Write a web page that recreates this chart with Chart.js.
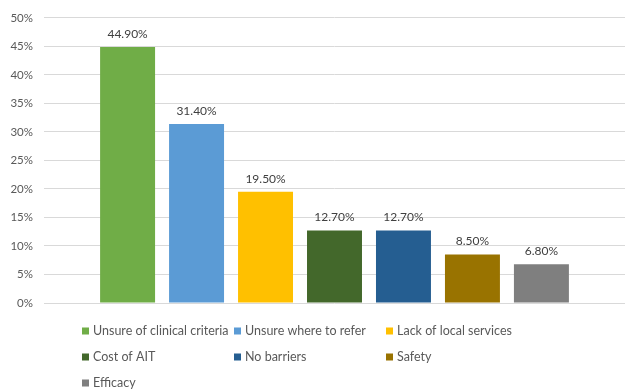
<!DOCTYPE html>
<html>
<head>
<meta charset="utf-8">
<script src="https://cdn.jsdelivr.net/npm/chart.js@4"></script>
<style>
    body { margin: 0; background: #fff; }
    #wrap { width: 625px; height: 389px; position: relative; }
</style>
</head>
<body>
<div id="wrap"><canvas id="barChart"></canvas></div>
<script>
const categories = [
    'Unsure of clinical criteria',
    'Unsure where to refer',
    'Lack of local services',
    'Cost of AIT',
    'No barriers',
    'Safety',
    'Efficacy'
];
const values = [44.9, 31.4, 19.5, 12.7, 12.7, 8.5, 6.8];
const colors = ['#70ad47', '#5b9bd5', '#ffc000', '#43682b', '#255e91', '#997300', '#7f7f7f'];
const yTicks = [0, 5, 10, 15, 20, 25, 30, 35, 40, 45, 50];

const FONT = 'Lato, "Liberation Sans", sans-serif';

// value labels above bars
const valueLabels = {
    id: 'valueLabels',
    afterDatasetsDraw(chart) {
        const ctx = chart.ctx;
        ctx.save();
        ctx.font = '12px ' + FONT;
        ctx.fillStyle = '#404040';
        ctx.textAlign = 'center';
        ctx.textBaseline = 'bottom';
        chart.data.datasets.forEach((ds, i) => {
            const bar = chart.getDatasetMeta(i).data[0];
            ctx.fillText(ds.data[0].toFixed(2) + '%', bar.x, bar.y - 7);
        });
        ctx.restore();
    }
};

// legend in 3 columns, like the original
const gridLegend = {
    id: 'gridLegend',
    afterDraw(chart) {
        const ctx = chart.ctx;
        ctx.save();
        ctx.font = '12.5px ' + FONT;
        ctx.textBaseline = 'middle';
        ctx.textAlign = 'left';
        chart.data.datasets.forEach((ds, i) => {
            const x = 82 + (i % 3) * 152;
            const y = 331 + Math.floor(i / 3) * 26;
            ctx.fillStyle = ds.backgroundColor;
            ctx.fillRect(x, y - 3.5, 7, 7);
            ctx.fillStyle = '#595959';
            ctx.fillText(ds.label, x + 11, y);
        });
        ctx.restore();
    }
};

new Chart(document.getElementById('barChart'), {
    type: 'bar',
    data: {
        labels: [''],
        datasets: categories.map((c, i) => ({
            label: c,
            data: [values[i]],
            backgroundColor: colors[i],
            categoryPercentage: 0.831,
            barPercentage: 0.797
        }))
    },
    options: {
        responsive: true,
        maintainAspectRatio: false,
        animation: false,
        layout: {
            padding: { top: 12, bottom: 86, left: 0, right: 0 }
        },
        plugins: {
            legend: { display: false },
            tooltip: { enabled: false }
        },
        scales: {
            x: { display: false },
            y: {
                min: 0,
                max: 50,
                afterFit(scale) { scale.width = 44; },
                afterBuildTicks(scale) {
                    scale.ticks = yTicks.map(v => ({ value: v }));
                },
                ticks: {
                    padding: 11,
                    color: '#595959',
                    font: { family: FONT, size: 11.5 },
                    callback: v => v + '%'
                },
                grid: { color: '#d9d9d9', lineWidth: 1, drawTicks: false },
                border: { display: false }
            }
        }
    },
    plugins: [valueLabels, gridLegend]
});
</script>
</body>
</html>
